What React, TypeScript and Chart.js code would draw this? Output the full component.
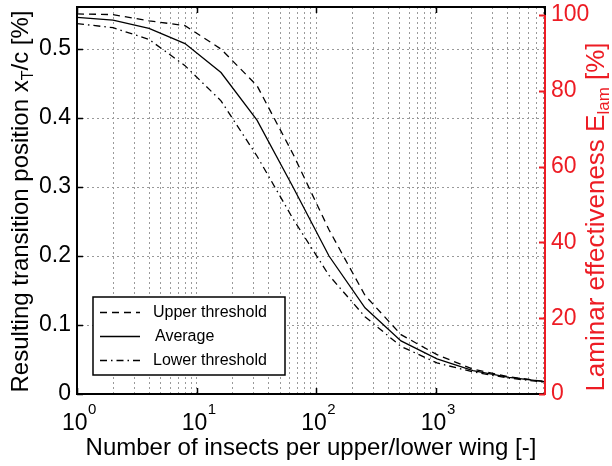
import React, { useEffect, useRef } from 'react';
import { Chart, registerables } from 'chart.js';

Chart.register(...registerables);

// ---- data ----
const insectCounts = [1, 2, 4, 8, 16, 32, 64, 128, 256, 512, 1024, 2048, 4096, 8192];
const upperThreshold = [0.551, 0.55, 0.541, 0.534, 0.5, 0.447, 0.348, 0.238, 0.143, 0.086, 0.057, 0.036, 0.025, 0.018];
const averageValues = [0.546, 0.542, 0.53, 0.508, 0.466, 0.397, 0.3, 0.2, 0.125, 0.077, 0.051, 0.034, 0.024, 0.018];
const lowerThreshold = [0.537, 0.531, 0.514, 0.476, 0.425, 0.345, 0.254, 0.172, 0.112, 0.069, 0.045, 0.032, 0.023, 0.017];
const seriesLabels = ['Upper threshold', 'Average', 'Lower threshold'];

const leftTickValues = [0, 0.1, 0.2, 0.3, 0.4, 0.5];
const rightTickValues = [0, 20, 40, 60, 80, 100];
const xDecadeValues = [1, 10, 100, 1000];
const xDecadeExponents = ['0', '1', '2', '3'];
const xMantissas = [1, 2, 3, 4, 5, 6, 7, 8, 9];

const xTitle = 'Number of insects per upper/lower wing [-]';
const leftTitleParts = ['Resulting transition position x', 'T', '/c [%]'];
const rightTitleParts = ['Laminar effectiveness E', 'lam', ' [%]'];

const X_MIN = 1;
const X_MAX = 8192;
const Y_MAX = 0.561;
const Y2_MAX = 102.1;

const RED = '#ed1c24';
const FONT = "'Liberation Sans', Arial, Helvetica, sans-serif";
const GRID = '#9a9a9a';

const dashUpper = [7, 5];
const dashAvg: number[] = [];
const dashLower = [7, 4, 1.5, 4];

function drawParts(ctx: CanvasRenderingContext2D, parts: { t: string; size: number; dy: number }[], cx: number) {
  let total = 0;
  const widths = parts.map((p) => {
    ctx.font = `${p.size}px ${FONT}`;
    const w = ctx.measureText(p.t).width;
    total += w;
    return w;
  });
  let x = cx - total / 2;
  parts.forEach((p, i) => {
    ctx.font = `${p.size}px ${FONT}`;
    ctx.fillText(p.t, x, p.dy);
    x += widths[i];
  });
}

const overlayPlugin = {
  id: 'overlay',
  afterDraw(chart: any) {
    const { ctx, chartArea: a, scales } = chart;
    const xs = scales.x;
    const ys = scales.y;
    const y2 = scales.y2;
    const top100 = y2.getPixelForValue(100);
    ctx.save();

    // frame
    ctx.strokeStyle = '#000';
    ctx.lineWidth = 2;
    ctx.setLineDash([]);
    ctx.beginPath();
    ctx.moveTo(a.right, top100);
    ctx.lineTo(a.right, a.top);
    ctx.lineTo(a.left, a.top);
    ctx.lineTo(a.left, a.bottom);
    ctx.lineTo(a.right, a.bottom);
    ctx.stroke();

    // inward ticks
    ctx.lineWidth = 1.5;
    ctx.beginPath();
    xDecadeValues.forEach((v) => {
      const px = Math.round(xs.getPixelForValue(v)) + 0.5;
      ctx.moveTo(px, a.bottom);
      ctx.lineTo(px, a.bottom - 6);
      ctx.moveTo(px, a.top);
      ctx.lineTo(px, a.top + 6);
    });
    leftTickValues.forEach((v) => {
      const py = Math.round(ys.getPixelForValue(v)) + 0.5;
      ctx.moveTo(a.left, py);
      ctx.lineTo(a.left + 6, py);
    });
    ctx.stroke();

    // red right axis
    ctx.strokeStyle = RED;
    ctx.lineWidth = 2;
    ctx.beginPath();
    ctx.moveTo(a.right, top100);
    ctx.lineTo(a.right, a.bottom + 1);
    rightTickValues.forEach((v) => {
      const py = Math.round(y2.getPixelForValue(v)) + 0.5;
      ctx.moveTo(a.right, py);
      ctx.lineTo(a.right - 6, py);
    });
    ctx.stroke();

    // x tick labels 10^n
    ctx.fillStyle = '#000';
    ctx.textBaseline = 'alphabetic';
    ctx.textAlign = 'left';
    xDecadeValues.forEach((v, i) => {
      const px = xs.getPixelForValue(v);
      ctx.font = `23px ${FONT}`;
      const wb = ctx.measureText('10').width;
      ctx.font = `15px ${FONT}`;
      const we = ctx.measureText(xDecadeExponents[i]).width;
      const start = px - (wb + we) / 2 + 2;
      ctx.font = `23px ${FONT}`;
      ctx.fillText('10', start, 430);
      ctx.font = `15px ${FONT}`;
      ctx.fillText(xDecadeExponents[i], start + wb + 0.5, 414);
    });

    // x title
    ctx.font = `24px ${FONT}`;
    ctx.textAlign = 'center';
    ctx.fillText(xTitle, (a.left + a.right) / 2, 455);
    ctx.textAlign = 'left';

    // left title
    ctx.save();
    ctx.translate(28, 201.5);
    ctx.rotate(-Math.PI / 2);
    drawParts(ctx, [
      { t: leftTitleParts[0], size: 24, dy: 0 },
      { t: leftTitleParts[1], size: 16, dy: 5 },
      { t: leftTitleParts[2], size: 24, dy: 0 },
    ], 0);
    ctx.restore();

    // right title
    ctx.save();
    ctx.fillStyle = RED;
    ctx.translate(604, 217);
    ctx.rotate(-Math.PI / 2);
    drawParts(ctx, [
      { t: rightTitleParts[0], size: 26, dy: 0 },
      { t: rightTitleParts[1], size: 17, dy: 5 },
      { t: rightTitleParts[2], size: 26, dy: 0 },
    ], 0);
    ctx.restore();

    // legend
    const bx = 93, by = 297, bw = 192, bh = 78;
    ctx.fillStyle = '#fff';
    ctx.fillRect(bx, by, bw, bh);
    ctx.strokeStyle = '#000';
    ctx.lineWidth = 1.5;
    ctx.strokeRect(bx, by, bw, bh);
    const rows = [312, 336, 360];
    const dashes = [dashUpper, dashAvg, dashLower];
    ctx.font = `16px ${FONT}`;
    ctx.textBaseline = 'middle';
    rows.forEach((ry, i) => {
      ctx.strokeStyle = '#000';
      ctx.lineWidth = 1.3;
      ctx.setLineDash(dashes[i]);
      ctx.beginPath();
      ctx.moveTo(100, ry + 0.5);
      ctx.lineTo(140, ry + 0.5);
      ctx.stroke();
      ctx.setLineDash([]);
      ctx.fillStyle = '#000';
      ctx.fillText(seriesLabels[i], i === 1 ? 155 : 153, ry + 1);
    });

    ctx.restore();
  },
};

function zeroPad(scale: any) {
  scale.paddingTop = 0;
  scale.paddingBottom = 0;
  scale.paddingLeft = 0;
  scale.paddingRight = 0;
}

export default function App() {
  const canvasRef = useRef<HTMLCanvasElement | null>(null);

  useEffect(() => {
    if (!canvasRef.current) return;
    const mk = (vals: number[]) => insectCounts.map((n, i) => ({ x: n, y: vals[i] }));
    const allSeries = [upperThreshold, averageValues, lowerThreshold];
    const dashes = [dashUpper, dashAvg, dashLower];
    const xGridValues: number[] = [];
    xDecadeValues.forEach((d) => xMantissas.forEach((m) => {
      if (d * m <= X_MAX) xGridValues.push(d * m);
    }));

    const chart = new Chart(canvasRef.current, {
      type: 'line',
      data: {
        datasets: allSeries.map((s, i) => ({
          label: seriesLabels[i],
          data: mk(s),
          borderColor: '#000',
          backgroundColor: '#000',
          borderWidth: 1.3,
          borderDash: dashes[i],
          pointRadius: 0,
          tension: 0,
          fill: false,
          yAxisID: 'y',
        })),
      },
      options: {
        animation: false,
        responsive: true,
        maintainAspectRatio: false,
        layout: { padding: { top: 7, left: 0, right: 0, bottom: 0 } },
        plugins: {
          legend: { display: false },
          tooltip: { enabled: false },
          title: { display: false },
        },
        scales: {
          x: {
            type: 'logarithmic',
            min: X_MIN,
            max: X_MAX,
            afterBuildTicks: (scale: any) => {
              scale.ticks = xGridValues.map((v) => ({ value: v }));
            },
            afterFit: (scale: any) => {
              scale.height = 72;
              zeroPad(scale);
            },
            ticks: { display: false },
            grid: { color: GRID, lineWidth: 1, drawTicks: false },
            border: { display: false, dash: [2, 3] },
          },
          y: {
            type: 'linear',
            position: 'left',
            min: 0,
            max: Y_MAX,
            afterBuildTicks: (scale: any) => {
              scale.ticks = leftTickValues.map((v) => ({ value: v }));
            },
            afterFit: (scale: any) => {
              scale.width = 77;
              zeroPad(scale);
            },
            ticks: {
              color: '#000',
              font: { family: FONT, size: 23 },
              padding: 6,
              callback: (v: any) => (Number(v) === 0 ? '0' : Number(v).toFixed(1)),
            },
            grid: { color: GRID, lineWidth: 1, drawTicks: false },
            border: { display: false, dash: [2, 3] },
          },
          y2: {
            type: 'linear',
            position: 'right',
            min: 0,
            max: Y2_MAX,
            afterBuildTicks: (scale: any) => {
              scale.ticks = rightTickValues.map((v) => ({ value: v }));
            },
            afterFit: (scale: any) => {
              scale.width = 67;
              zeroPad(scale);
            },
            ticks: {
              color: RED,
              font: { family: FONT, size: 23 },
              padding: 6,
              callback: (v: any) => String(v),
            },
            grid: { display: false, drawTicks: false },
            border: { display: false },
          },
        },
      },
      plugins: [overlayPlugin],
    });
    return () => chart.destroy();
  }, []);

  return (
    <div style={{ position: 'absolute', left: 0, top: 0, width: 612, height: 466, background: '#fff' }}>
      <canvas ref={canvasRef} />
    </div>
  );
}
